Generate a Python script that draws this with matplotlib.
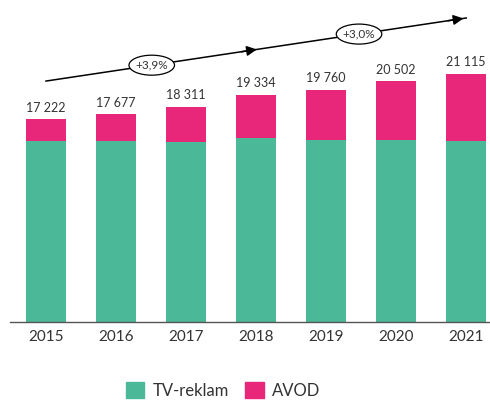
import matplotlib.pyplot as plt
from matplotlib.patches import Ellipse, Patch
import numpy as np

years = ['2015', '2016', '2017', '2018', '2019', '2020', '2021']
totals = [17222, 17677, 18311, 19334, 19760, 20502, 21115]
tv = [15390, 15390, 15300, 15640, 15470, 15470, 15390]
avod = [t - v for t, v in zip(totals, tv)]
total_labels = ['17 222', '17 677', '18 311', '19 334', '19 760', '20 502', '21 115']

# trend arrow and growth rates
trend_x = [0.0, 6.0]
trend_y = [20480, 25840]
growth = ['+3,9%', '+3,0%']
growth_x = [1.51, 4.47]

green = '#4bb898'
pink = '#e8267a'
txt = '#333333'

plt.rcParams['font.family'] = ['Lato', 'DejaVu Sans']

fig = plt.figure(figsize=(4.9, 4.01), dpi=100)
ax = fig.add_axes([10 / 490, 1 - 322 / 401, 480 / 490, 322 / 401])

x = np.arange(len(years))
ax.bar(x, tv, width=0.57, color=green, label='TV-reklam')
ax.bar(x, avod, width=0.57, bottom=tv, color=pink, label='AVOD')

for xi, t, lab in zip(x, totals, total_labels):
    ax.text(xi, t + 450, lab, ha='center', va='bottom', fontsize=9, color=txt)

# trend line with arrow heads
slope = (trend_y[1] - trend_y[0]) / (trend_x[1] - trend_x[0])
ax.plot(trend_x, trend_y, color='black', lw=1.1)
ax.annotate('', xy=(trend_x[1], trend_y[1]), xytext=(trend_x[1] - 0.3, trend_y[1] - 0.3 * slope),
            arrowprops=dict(arrowstyle='-|>', color='black', lw=1.1, mutation_scale=15))
xm = 3.05
ax.annotate('', xy=(xm, trend_y[0] + slope * xm), xytext=(xm - 0.3, trend_y[0] + slope * (xm - 0.3)),
            arrowprops=dict(arrowstyle='-|>', color='black', lw=1.1, mutation_scale=15))

for gx, g in zip(growth_x, growth):
    gy = trend_y[0] + slope * gx
    ax.add_patch(Ellipse((gx, gy), 0.65, 1700, facecolor='white', edgecolor='black', lw=0.9, zorder=3))
    ax.text(gx, gy, g, ha='center', va='center', fontsize=8.5, color=txt, zorder=4)

ax.set_xlim(-0.514, 6.34)
ax.set_ylim(0, 27370)
ax.set_xticks(x)
ax.set_xticklabels(years, fontsize=11, color=txt)
ax.tick_params(axis='x', length=0, pad=6)
ax.set_yticks([])
for s in ['top', 'right', 'left']:
    ax.spines[s].set_visible(False)
ax.spines['bottom'].set_color('#555555')
ax.spines['bottom'].set_linewidth(1.0)

handles = [Patch(color=green), Patch(color=pink)]
fig.legend(handles, ['TV-reklam', 'AVOD'], loc='center', bbox_to_anchor=(0.455, 0.027),
           ncol=2, frameon=False, fontsize=12, handlelength=1.1, handleheight=1.1,
           handletextpad=0.5, columnspacing=1.0, labelcolor=txt)

fig.savefig('out.png', dpi=100)
